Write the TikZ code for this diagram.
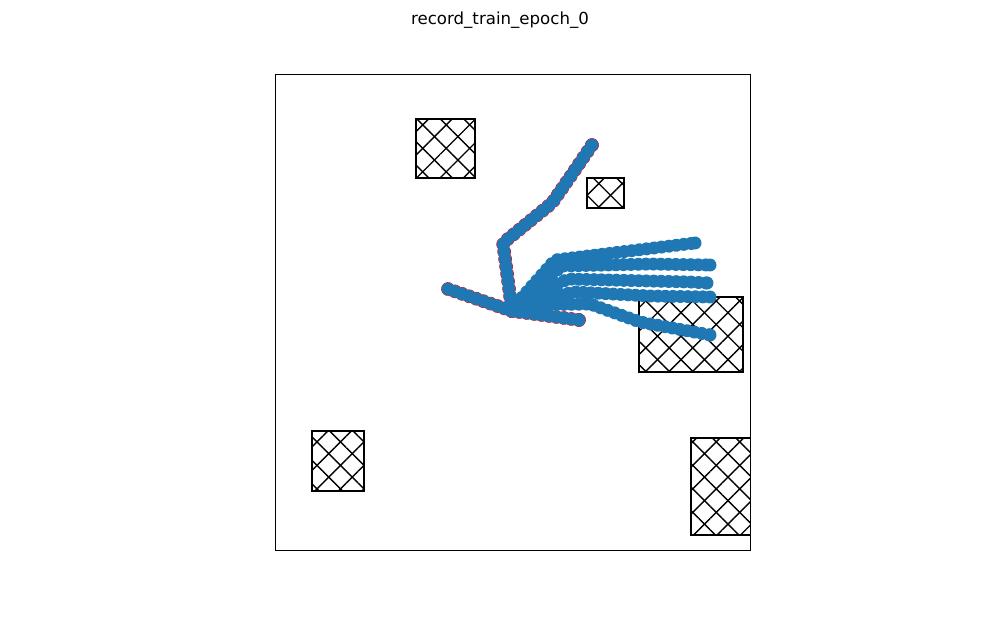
\documentclass[tikz,border=0pt]{standalone}
\usepackage{fontspec}
\setmainfont{DejaVu Sans}
\usetikzlibrary{patterns.meta,decorations.markings}

\definecolor{mplblue}{HTML}{1F77B4}

\begin{document}
\begin{tikzpicture}[x=0.254mm, y=-0.254mm,
    obstacle/.style={draw=black, line width=2.1pt,
        preaction={pattern={Lines[angle=45,distance=12pt,line width=1pt]}},
        pattern={Lines[angle=-45,distance=12pt,line width=1pt]}},
    trail/.style={decorate, decoration={markings,
        mark=between positions 0 and 1 step 1.9mm with
          {\fill[#1] (0,0) circle[radius=\dotr];},
        mark=at position 1 with
          {\fill[#1] (0,0) circle[radius=\dotr];}}},
    trail/.default=mplblue,
    frame/.style={draw=black, line width=0.6pt},
]
\useasboundingbox (0,0) rectangle (1000,618);
\def\dotr{1.65mm}

% === Title ===
\node[font=\fontsize{12pt}{14pt}\selectfont] (title) at (500,20) {record\_train\_epoch\_0};

\begin{scope}
  \clip (275,74) rectangle (750,550);

  % === Obstacles ===
  \path[obstacle] (416,119) rectangle (475,178);
  \path[obstacle] (587,178) rectangle (624,208);
  \path[obstacle] (639,297) rectangle (743,372);
  \path[obstacle] (312,431) rectangle (364,491);
  \path[obstacle] (691,438) rectangle (760,535);

  % === Recorded trajectories (red rim under blue) ===
  \def\dotr{1.74mm}
  \path[trail=red] (448,289) -- (512,311);
  \path[trail=red] (512,311) -- (503,243) -- (552,203) -- (568,180) -- (592,145);
  \path[trail=red] (512,311) -- (579,320);
  \def\dotr{1.65mm}
  \path[trail] (448,289) -- (512,311);
  \path[trail] (512,311) -- (503,243) -- (552,203) -- (568,180) -- (592,145);
  \path[trail] (512,311) -- (579,320);

  % === Sampled trajectories ===
  \path[trail] (517,303) -- (555,260) -- (695,243);
  \path[trail] (517,303) -- (562,266) -- (650,264) -- (710,265);
  \path[trail] (517,303) -- (568,279) -- (690,282) -- (707,283);
  \path[trail] (517,303) -- (575,292) -- (650,296) -- (710,297);
  \path[trail] (519,305) -- (590,304) -- (640,322) -- (710,335);
\end{scope}

% === Axes frame ===
\path[frame] (275,74) rectangle (750,550);

\end{tikzpicture}
\end{document}
